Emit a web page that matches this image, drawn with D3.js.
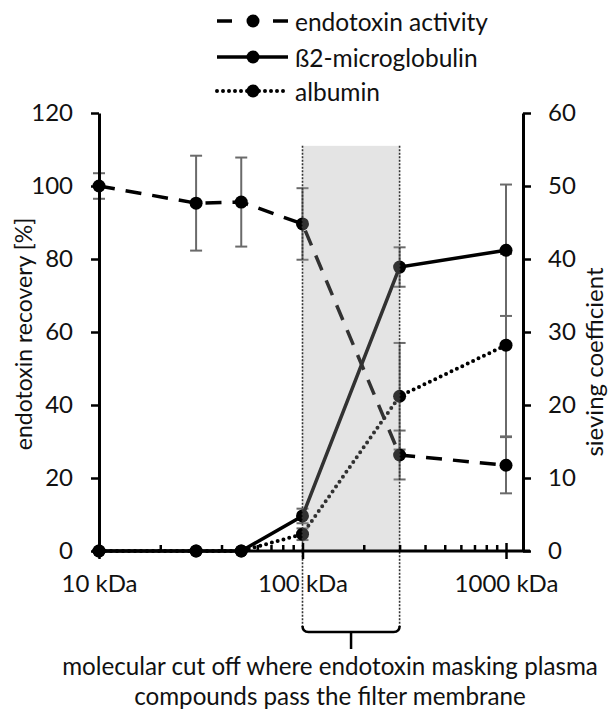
<!DOCTYPE html>
<html>
<head>
<meta charset="utf-8">
<script src="https://cdn.jsdelivr.net/npm/d3@7"></script>
<style>
  html, body { margin: 0; padding: 0; background: #fff; }
  svg { display: block; }
  text { font-family: Lato, "Open Sans", sans-serif; fill: #111; }
</style>
</head>
<body>
<svg id="chart" width="609" height="712"></svg>
<script>
// ---- data ----
const xValues = [10, 30, 50, 100, 300, 1000];
const endotoxin = [100, 95.3, 95.6, 89.6, 26.3, 23.5];          // left axis (%)
const endotoxinErr = [3.5, 13, 12.2, 9.8, 6.7, 7.7];
const b2m = [0, 0, 0, 4.8, 38.9, 41.2];                          // right axis
const b2mErr = [0, 0, 0, 1, 2.7, 9];
const albumin = [0, 0, 0, 2.3, 21.2, 28.2];                      // right axis
const albuminErr = [0, 0, 0, 0.8, 7.3, 12.5];
const leftTicks = [0, 20, 40, 60, 80, 100, 120];
const rightTicks = [0, 10, 20, 30, 40, 50, 60];
const xMajorTicks = [10, 100, 1000];
const xTickLabels = ["10 kDa", "100 kDa", "1000 kDa"];
const xMinorTicks = [20, 30, 40, 50, 60, 70, 80, 90, 200, 300, 400, 500, 600, 700, 800, 900];
const cutoffRange = [100, 300];
const legendLabels = ["endotoxin activity", "ß2-microglobulin", "albumin"];
const noteLines = ["molecular cut off where endotoxin masking plasma", "compounds pass the filter membrane"];
const leftTitle = "endotoxin recovery [%]";
const rightTitle = "sieving coefficient";

// ---- layout ----
const svg = d3.select("#chart");
const L = 99, R = 523, T = 113, B = 551;
const x = d3.scaleLog().domain([10, 1212]).range([L, R]);
const yL = d3.scaleLinear().domain([0, 120]).range([B, T]);
const yR = d3.scaleLinear().domain([0, 60]).range([B, T]);

const series = [
  { vals: endotoxin, err: endotoxinErr, y: yL, dash: "16,11", cap: "butt" },
  { vals: b2m, err: b2mErr, y: yR, dash: null, cap: "butt" },
  { vals: albumin, err: albuminErr, y: yR, dash: "0,6", cap: "round" }
];

const plot = svg.append("g");

// error bars
series.forEach(s => {
  const g = plot.append("g");
  xValues.forEach((xv, i) => {
    if (!s.err[i]) return;
    const cx = x(xv), y1 = s.y(s.vals[i] + s.err[i]), y2 = s.y(s.vals[i] - s.err[i]);
    g.append("line").attr("x1", cx).attr("x2", cx).attr("y1", y1).attr("y2", y2)
      .attr("stroke", "#6a6a6a").attr("stroke-width", 2);
    [y1, y2].forEach(yy => g.append("line").attr("x1", cx - 6).attr("x2", cx + 6)
      .attr("y1", yy).attr("y2", yy).attr("stroke", "#6a6a6a").attr("stroke-width", 2));
  });
});

// lines
series.forEach(s => {
  const line = d3.line().x((d, i) => x(xValues[i])).y(d => s.y(d));
  plot.append("path").datum(s.vals).attr("d", line)
    .attr("fill", "none").attr("stroke", "#000")
    .attr("stroke-width", s.cap === "round" ? 4 : 3.5)
    .attr("stroke-linecap", s.cap)
    .attr("stroke-dasharray", s.dash);
});

// markers
series.forEach(s => {
  plot.append("g").selectAll("circle").data(s.vals).join("circle")
    .attr("cx", (d, i) => x(xValues[i])).attr("cy", d => s.y(d))
    .attr("r", 6.5).attr("fill", "#000");
});

// shaded cut-off region (semi transparent overlay)
svg.append("rect")
  .attr("x", x(cutoffRange[0])).attr("width", x(cutoffRange[1]) - x(cutoffRange[0]))
  .attr("y", yL(111)).attr("height", yL(0) - yL(111))
  .attr("fill", "#a6a6a6").attr("fill-opacity", 0.3);

// dotted boundaries
cutoffRange.forEach(v => {
  svg.append("line").attr("x1", x(v)).attr("x2", x(v))
    .attr("y1", yL(111)).attr("y2", 628)
    .attr("stroke", "#333").attr("stroke-width", 1.6).attr("stroke-dasharray", "2,1.5");
});

// axes
function styleAxis(g) {
  g.select(".domain").attr("stroke", "#000").attr("stroke-width", 3);
  g.selectAll(".tick line").attr("stroke", "#000").attr("stroke-width", 2.5);
  g.selectAll(".tick text").style("font-family", "Lato, sans-serif").style("font-size", "24px").attr("fill", "#111");
}
const gl = svg.append("g").attr("transform", `translate(${L},0)`)
  .call(d3.axisLeft(yL).tickValues(leftTicks).tickSize(8).tickPadding(18).tickSizeOuter(0));
styleAxis(gl);
const gr = svg.append("g").attr("transform", `translate(${R},0)`)
  .call(d3.axisRight(yR).tickValues(rightTicks).tickSize(8).tickPadding(17).tickSizeOuter(0));
styleAxis(gr);

// x axis minor ticks (up)
const gxm = svg.append("g").attr("transform", `translate(0,${B})`)
  .call(d3.axisBottom(x).tickValues(xMinorTicks).tickSize(-6).tickFormat(""));
gxm.select(".domain").remove();
gxm.selectAll(".tick line").attr("stroke", "#000").attr("stroke-width", 2.5);
// x axis majors (cross)
const gx = svg.append("g").attr("transform", `translate(0,${B})`)
  .call(d3.axisBottom(x).tickValues(xMajorTicks).tickSize(8).tickSizeOuter(0)
    .tickPadding(16).tickFormat((d, i) => xTickLabels[i]));
styleAxis(gx);
gx.select(".domain").attr("d", `M${L - 7},0H${R + 7}`);
gx.selectAll(".tick line").attr("y1", -8);

// axis titles
svg.append("text").attr("transform", `translate(32,334) rotate(-90)`)
  .attr("text-anchor", "middle")
  .style("font-size", "23px").text(leftTitle);
svg.append("text").attr("transform", `translate(603,362) rotate(-90)`)
  .attr("text-anchor", "middle")
  .style("font-size", "24px").text(rightTitle);

// legend
const legY = [21, 57, 91];
series.forEach((s, i) => {
  const g = svg.append("g").attr("transform", `translate(0,${legY[i]})`);
  g.append("line").attr("x1", 217).attr("x2", 288).attr("y1", 0).attr("y2", 0)
    .attr("stroke", "#000").attr("stroke-width", s.cap === "round" ? 4 : 3.5)
    .attr("stroke-linecap", s.cap)
    .attr("stroke-dasharray", i === 0 ? "15,41" : s.dash);
  g.append("circle").attr("cx", 253).attr("cy", 0).attr("r", 6.5).attr("fill", "#000");
  g.append("text").attr("x", 295).attr("y", 0).attr("dominant-baseline", "central")
    .style("font-size", "24.5px").text(legendLabels[i]);
});

// bracket
const bx1 = x(cutoffRange[0]), bx2 = x(cutoffRange[1]), by = 632;
svg.append("path")
  .attr("d", `M${bx1},${by - 6} Q${bx1},${by} ${bx1 + 6},${by} H${bx2 - 6} Q${bx2},${by} ${bx2},${by - 6}`)
  .attr("fill", "none").attr("stroke", "#000").attr("stroke-width", 2.5);
svg.append("line").attr("x1", (bx1 + bx2) / 2).attr("x2", (bx1 + bx2) / 2)
  .attr("y1", by).attr("y2", 649).attr("stroke", "#000").attr("stroke-width", 2.5);

// note
noteLines.forEach((t, i) => {
  svg.append("text").attr("x", 330).attr("y", 675 + i * 30).attr("text-anchor", "middle")
    .style("font-size", "24.2px").text(t);
});
</script>
</body>
</html>
